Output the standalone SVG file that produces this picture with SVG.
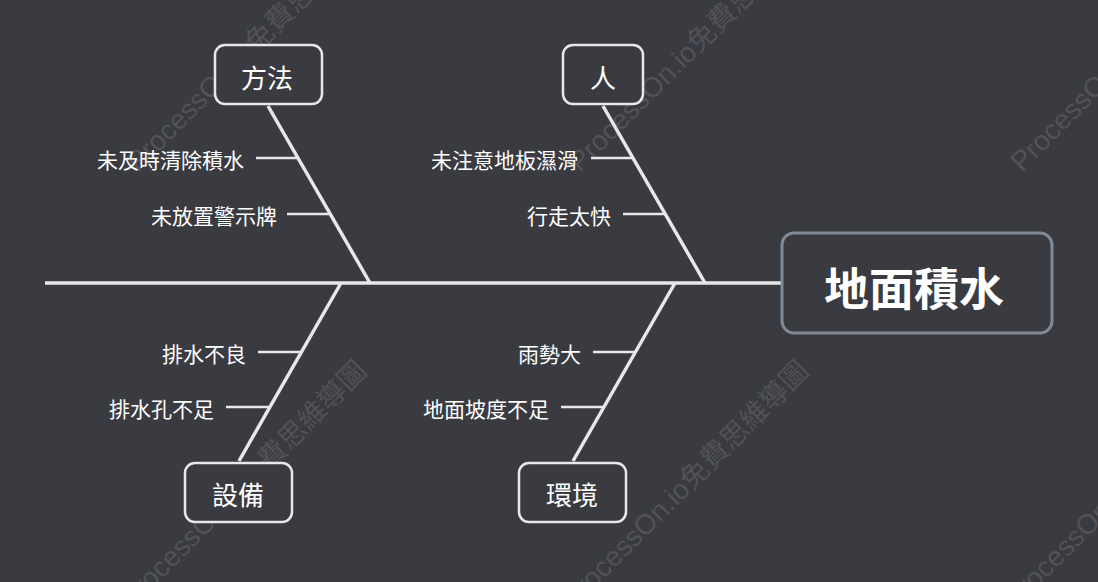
<svg xmlns="http://www.w3.org/2000/svg" width="1098" height="582" viewBox="0 0 1098 582">
<style>
.wm{font-family:"Liberation Sans","Noto Sans CJK TC",sans-serif;font-size:28px;fill:#ffffff;fill-opacity:0.12}
.bone{stroke:#e8e8e8;stroke-width:3.5;fill:none;stroke-linecap:butt}
.sub{stroke:#e8e8e8;stroke-width:2.5;fill:none}
.cat rect{fill:#3a3b41;stroke:#e8e8e8;stroke-width:2.5}
.cat text{font-family:"Noto Sans CJK TC","Noto Sans CJK SC",sans-serif;font-size:26px;fill:#ffffff;text-anchor:middle;dominant-baseline:central}
.lbl{font-family:"Noto Sans CJK TC","Noto Sans CJK SC",sans-serif;font-size:21px;fill:#ffffff;text-anchor:end;dominant-baseline:central}
</style>
<rect width="1098" height="582" fill="#3a3b41"/>
<g id="watermarks">
<text class="wm" transform="translate(138,173) rotate(-45)">ProcessOn.io免費思維導圖</text>
<text class="wm" transform="translate(580,173) rotate(-45)">ProcessOn.io免費思維導圖</text>
<text class="wm" transform="translate(1022,173) rotate(-45)">ProcessOn.io免費思維導圖</text>
<text class="wm" transform="translate(131,610) rotate(-45)">ProcessOn.io免費思維導圖</text>
<text class="wm" transform="translate(573,610) rotate(-45)">ProcessOn.io免費思維導圖</text>
<text class="wm" transform="translate(1015,610) rotate(-45)">ProcessOn.io免費思維導圖</text>
</g>
<g id="connectors">
<line class="bone" x1="45" y1="283" x2="782" y2="283"/>
<line class="bone" x1="268" y1="106" x2="370" y2="283"/>
<line class="bone" x1="603" y1="106" x2="705" y2="283"/>
<line class="bone" x1="239" y1="461" x2="341" y2="283"/>
<line class="bone" x1="573" y1="461" x2="675" y2="283"/>
<line class="sub" x1="256" y1="158" x2="298" y2="158"/>
<line class="sub" x1="287" y1="214" x2="330" y2="214"/>
<line class="sub" x1="591" y1="158" x2="633" y2="158"/>
<line class="sub" x1="623" y1="214" x2="665" y2="214"/>
<line class="sub" x1="258" y1="352" x2="301" y2="352"/>
<line class="sub" x1="226" y1="407" x2="270" y2="407"/>
<line class="sub" x1="593" y1="352" x2="635" y2="352"/>
<line class="sub" x1="561" y1="407" x2="604" y2="407"/>
</g>
<g id="center">
<rect x="782" y="233" width="270" height="100" rx="12" fill="#3a3b41" stroke="#7f8b99" stroke-width="3"/>
<text x="914" y="286" font-family="Noto Sans CJK TC,Noto Sans CJK SC,sans-serif" font-size="45" font-weight="bold" fill="#ffffff" text-anchor="middle" dominant-baseline="central">地面積水</text>
</g>
<g id="method" class="cat"><rect x="215" y="45" width="107" height="59" rx="10"/><text x="267" y="76">方法</text></g>
<g id="people" class="cat"><rect x="563" y="45" width="80" height="59" rx="10"/><text x="603" y="76">人</text></g>
<g id="equipment" class="cat"><rect x="185" y="463" width="107" height="59" rx="10"/><text x="238" y="493">設備</text></g>
<g id="environment" class="cat"><rect x="519" y="463" width="107" height="59" rx="10"/><text x="572" y="493">環境</text></g>
<g id="causes">
<text class="lbl" x="244" y="159">未及時清除積水</text>
<text class="lbl" x="277" y="215">未放置警示牌</text>
<text class="lbl" x="578" y="159">未注意地板濕滑</text>
<text class="lbl" x="611" y="215">行走太快</text>
<text class="lbl" x="246" y="353">排水不良</text>
<text class="lbl" x="214" y="408">排水孔不足</text>
<text class="lbl" x="581" y="353">雨勢大</text>
<text class="lbl" x="549" y="408">地面坡度不足</text>
</g>
</svg>
